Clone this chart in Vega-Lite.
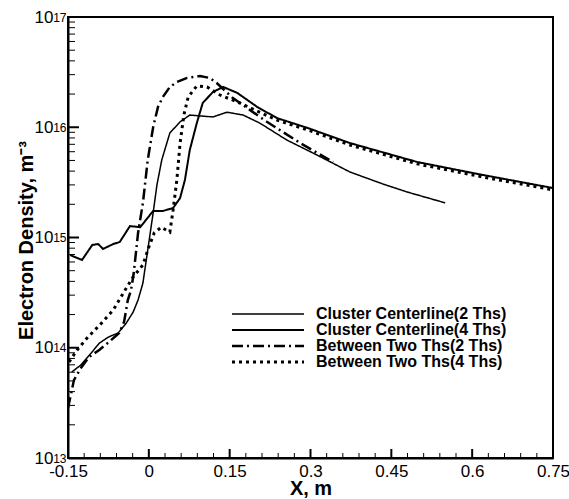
{
  "$schema": "https://vega.github.io/schema/vega-lite/v6.json",
  "width": 485,
  "height": 441,
  "autosize": {"type": "none"},
  "padding": {"left": 68, "top": 17, "right": 16, "bottom": 41},
  "config": {
    "font": "Liberation Sans",
    "view": {"stroke": "black", "strokeWidth": 2},
    "axis": {"grid": false, "domainColor": "black", "domainWidth": 2, "tickColor": "black", "labelColor": "black", "titleColor": "black", "labelFont": "Liberation Sans", "titleFont": "Liberation Sans"}
  },
  "datasets": {
    "yticks": [
      {"v": 1e13, "kind": "major"}, {"v": 1e14, "kind": "major"}, {"v": 1e15, "kind": "major"}, {"v": 1e16, "kind": "major"}, {"v": 1e17, "kind": "major"},
      {"v": 2e13, "kind": "minor"}, {"v": 3e13, "kind": "minor"}, {"v": 4e13, "kind": "minor"}, {"v": 5e13, "kind": "minor"}, {"v": 6e13, "kind": "minor"}, {"v": 7e13, "kind": "minor"}, {"v": 8e13, "kind": "minor"}, {"v": 9e13, "kind": "minor"},
      {"v": 2e14, "kind": "minor"}, {"v": 3e14, "kind": "minor"}, {"v": 4e14, "kind": "minor"}, {"v": 5e14, "kind": "minor"}, {"v": 6e14, "kind": "minor"}, {"v": 7e14, "kind": "minor"}, {"v": 8e14, "kind": "minor"}, {"v": 9e14, "kind": "minor"},
      {"v": 2e15, "kind": "minor"}, {"v": 3e15, "kind": "minor"}, {"v": 4e15, "kind": "minor"}, {"v": 5e15, "kind": "minor"}, {"v": 6e15, "kind": "minor"}, {"v": 7e15, "kind": "minor"}, {"v": 8e15, "kind": "minor"}, {"v": 9e15, "kind": "minor"},
      {"v": 2e16, "kind": "minor"}, {"v": 3e16, "kind": "minor"}, {"v": 4e16, "kind": "minor"}, {"v": 5e16, "kind": "minor"}, {"v": 6e16, "kind": "minor"}, {"v": 7e16, "kind": "minor"}, {"v": 8e16, "kind": "minor"}, {"v": 9e16, "kind": "minor"}
    ],
    "xticks": [
      {"v": -0.15, "kind": "major"}, {"v": 0, "kind": "major"}, {"v": 0.15, "kind": "major"}, {"v": 0.3, "kind": "major"}, {"v": 0.45, "kind": "major"}, {"v": 0.6, "kind": "major"}, {"v": 0.75, "kind": "major"},
      {"v": -0.12, "kind": "minor"}, {"v": -0.09, "kind": "minor"}, {"v": -0.06, "kind": "minor"}, {"v": -0.03, "kind": "minor"},
      {"v": 0.03, "kind": "minor"}, {"v": 0.06, "kind": "minor"}, {"v": 0.09, "kind": "minor"}, {"v": 0.12, "kind": "minor"},
      {"v": 0.18, "kind": "minor"}, {"v": 0.21, "kind": "minor"}, {"v": 0.24, "kind": "minor"}, {"v": 0.27, "kind": "minor"},
      {"v": 0.33, "kind": "minor"}, {"v": 0.36, "kind": "minor"}, {"v": 0.39, "kind": "minor"}, {"v": 0.42, "kind": "minor"},
      {"v": 0.48, "kind": "minor"}, {"v": 0.51, "kind": "minor"}, {"v": 0.54, "kind": "minor"}, {"v": 0.57, "kind": "minor"},
      {"v": 0.63, "kind": "minor"}, {"v": 0.66, "kind": "minor"}, {"v": 0.69, "kind": "minor"}, {"v": 0.72, "kind": "minor"}
    ],
    "curves": [
      {"series": "Cluster Centerline(2 Ths)", "x": -0.143, "y": 6.03e13},
      {"series": "Cluster Centerline(2 Ths)", "x": -0.126, "y": 6.98e13},
      {"series": "Cluster Centerline(2 Ths)", "x": -0.107, "y": 8.95e13},
      {"series": "Cluster Centerline(2 Ths)", "x": -0.092, "y": 1.10e14},
      {"series": "Cluster Centerline(2 Ths)", "x": -0.075, "y": 1.25e14},
      {"series": "Cluster Centerline(2 Ths)", "x": -0.057, "y": 1.36e14},
      {"series": "Cluster Centerline(2 Ths)", "x": -0.042, "y": 1.67e14},
      {"series": "Cluster Centerline(2 Ths)", "x": -0.029, "y": 2.11e14},
      {"series": "Cluster Centerline(2 Ths)", "x": -0.020, "y": 2.71e14},
      {"series": "Cluster Centerline(2 Ths)", "x": -0.011, "y": 3.86e14},
      {"series": "Cluster Centerline(2 Ths)", "x": -0.002, "y": 7.71e14},
      {"series": "Cluster Centerline(2 Ths)", "x": 0.008, "y": 1.67e15},
      {"series": "Cluster Centerline(2 Ths)", "x": 0.015, "y": 2.99e15},
      {"series": "Cluster Centerline(2 Ths)", "x": 0.024, "y": 5.05e15},
      {"series": "Cluster Centerline(2 Ths)", "x": 0.039, "y": 8.87e15},
      {"series": "Cluster Centerline(2 Ths)", "x": 0.058, "y": 1.12e16},
      {"series": "Cluster Centerline(2 Ths)", "x": 0.076, "y": 1.29e16},
      {"series": "Cluster Centerline(2 Ths)", "x": 0.119, "y": 1.24e16},
      {"series": "Cluster Centerline(2 Ths)", "x": 0.145, "y": 1.37e16},
      {"series": "Cluster Centerline(2 Ths)", "x": 0.175, "y": 1.29e16},
      {"series": "Cluster Centerline(2 Ths)", "x": 0.206, "y": 1.09e16},
      {"series": "Cluster Centerline(2 Ths)", "x": 0.256, "y": 7.66e15},
      {"series": "Cluster Centerline(2 Ths)", "x": 0.312, "y": 5.60e15},
      {"series": "Cluster Centerline(2 Ths)", "x": 0.373, "y": 3.93e15},
      {"series": "Cluster Centerline(2 Ths)", "x": 0.435, "y": 3.05e15},
      {"series": "Cluster Centerline(2 Ths)", "x": 0.479, "y": 2.59e15},
      {"series": "Cluster Centerline(2 Ths)", "x": 0.550, "y": 2.06e15},

      {"series": "Cluster Centerline(4 Ths)", "x": -0.146, "y": 6.93e14},
      {"series": "Cluster Centerline(4 Ths)", "x": -0.124, "y": 6.25e14},
      {"series": "Cluster Centerline(4 Ths)", "x": -0.105, "y": 8.55e14},
      {"series": "Cluster Centerline(4 Ths)", "x": -0.094, "y": 8.73e14},
      {"series": "Cluster Centerline(4 Ths)", "x": -0.085, "y": 7.87e14},
      {"series": "Cluster Centerline(4 Ths)", "x": -0.066, "y": 8.73e14},
      {"series": "Cluster Centerline(4 Ths)", "x": -0.054, "y": 9.10e14},
      {"series": "Cluster Centerline(4 Ths)", "x": -0.035, "y": 1.27e15},
      {"series": "Cluster Centerline(4 Ths)", "x": -0.016, "y": 1.24e15},
      {"series": "Cluster Centerline(4 Ths)", "x": 0.008, "y": 1.74e15},
      {"series": "Cluster Centerline(4 Ths)", "x": 0.026, "y": 1.74e15},
      {"series": "Cluster Centerline(4 Ths)", "x": 0.045, "y": 1.85e15},
      {"series": "Cluster Centerline(4 Ths)", "x": 0.058, "y": 2.28e15},
      {"series": "Cluster Centerline(4 Ths)", "x": 0.067, "y": 3.33e15},
      {"series": "Cluster Centerline(4 Ths)", "x": 0.076, "y": 6.22e15},
      {"series": "Cluster Centerline(4 Ths)", "x": 0.089, "y": 1.09e16},
      {"series": "Cluster Centerline(4 Ths)", "x": 0.100, "y": 1.66e16},
      {"series": "Cluster Centerline(4 Ths)", "x": 0.119, "y": 2.09e16},
      {"series": "Cluster Centerline(4 Ths)", "x": 0.138, "y": 2.32e16},
      {"series": "Cluster Centerline(4 Ths)", "x": 0.164, "y": 2.05e16},
      {"series": "Cluster Centerline(4 Ths)", "x": 0.201, "y": 1.53e16},
      {"series": "Cluster Centerline(4 Ths)", "x": 0.238, "y": 1.21e16},
      {"series": "Cluster Centerline(4 Ths)", "x": 0.295, "y": 9.84e15},
      {"series": "Cluster Centerline(4 Ths)", "x": 0.373, "y": 7.19e15},
      {"series": "Cluster Centerline(4 Ths)", "x": 0.498, "y": 4.84e15},
      {"series": "Cluster Centerline(4 Ths)", "x": 0.620, "y": 3.69e15},
      {"series": "Cluster Centerline(4 Ths)", "x": 0.750, "y": 2.81e15},

      {"series": "Between Two Ths(2 Ths)", "x": -0.150, "y": 2.84e13},
      {"series": "Between Two Ths(2 Ths)", "x": -0.144, "y": 3.89e13},
      {"series": "Between Two Ths(2 Ths)", "x": -0.139, "y": 5.09e13},
      {"series": "Between Two Ths(2 Ths)", "x": -0.126, "y": 6.55e13},
      {"series": "Between Two Ths(2 Ths)", "x": -0.111, "y": 8.24e13},
      {"series": "Between Two Ths(2 Ths)", "x": -0.092, "y": 9.55e13},
      {"series": "Between Two Ths(2 Ths)", "x": -0.074, "y": 1.13e14},
      {"series": "Between Two Ths(2 Ths)", "x": -0.055, "y": 1.36e14},
      {"series": "Between Two Ths(2 Ths)", "x": -0.046, "y": 1.71e14},
      {"series": "Between Two Ths(2 Ths)", "x": -0.039, "y": 2.71e14},
      {"series": "Between Two Ths(2 Ths)", "x": -0.033, "y": 3.34e14},
      {"series": "Between Two Ths(2 Ths)", "x": -0.028, "y": 4.76e14},
      {"series": "Between Two Ths(2 Ths)", "x": -0.020, "y": 1.10e15},
      {"series": "Between Two Ths(2 Ths)", "x": -0.011, "y": 2.06e15},
      {"series": "Between Two Ths(2 Ths)", "x": -0.002, "y": 5.05e15},
      {"series": "Between Two Ths(2 Ths)", "x": 0.008, "y": 1.00e16},
      {"series": "Between Two Ths(2 Ths)", "x": 0.017, "y": 1.53e16},
      {"series": "Between Two Ths(2 Ths)", "x": 0.026, "y": 1.88e16},
      {"series": "Between Two Ths(2 Ths)", "x": 0.039, "y": 2.32e16},
      {"series": "Between Two Ths(2 Ths)", "x": 0.052, "y": 2.57e16},
      {"series": "Between Two Ths(2 Ths)", "x": 0.071, "y": 2.80e16},
      {"series": "Between Two Ths(2 Ths)", "x": 0.095, "y": 2.92e16},
      {"series": "Between Two Ths(2 Ths)", "x": 0.113, "y": 2.80e16},
      {"series": "Between Two Ths(2 Ths)", "x": 0.126, "y": 2.52e16},
      {"series": "Between Two Ths(2 Ths)", "x": 0.156, "y": 1.84e16},
      {"series": "Between Two Ths(2 Ths)", "x": 0.188, "y": 1.43e16},
      {"series": "Between Two Ths(2 Ths)", "x": 0.219, "y": 1.12e16},
      {"series": "Between Two Ths(2 Ths)", "x": 0.281, "y": 7.19e15},
      {"series": "Between Two Ths(2 Ths)", "x": 0.342, "y": 4.84e15},

      {"series": "Between Two Ths(4 Ths)", "x": -0.148, "y": 7.43e13},
      {"series": "Between Two Ths(4 Ths)", "x": -0.133, "y": 9.55e13},
      {"series": "Between Two Ths(4 Ths)", "x": -0.115, "y": 1.22e14},
      {"series": "Between Two Ths(4 Ths)", "x": -0.091, "y": 1.61e14},
      {"series": "Between Two Ths(4 Ths)", "x": -0.066, "y": 2.20e14},
      {"series": "Between Two Ths(4 Ths)", "x": -0.044, "y": 3.34e14},
      {"series": "Between Two Ths(4 Ths)", "x": -0.029, "y": 4.39e14},
      {"series": "Between Two Ths(4 Ths)", "x": -0.011, "y": 5.64e14},
      {"series": "Between Two Ths(4 Ths)", "x": 0.000, "y": 8.20e14},
      {"series": "Between Two Ths(4 Ths)", "x": 0.010, "y": 1.10e15},
      {"series": "Between Two Ths(4 Ths)", "x": 0.023, "y": 1.24e15},
      {"series": "Between Two Ths(4 Ths)", "x": 0.039, "y": 1.12e15},
      {"series": "Between Two Ths(4 Ths)", "x": 0.045, "y": 1.77e15},
      {"series": "Between Two Ths(4 Ths)", "x": 0.052, "y": 3.33e15},
      {"series": "Between Two Ths(4 Ths)", "x": 0.058, "y": 7.19e15},
      {"series": "Between Two Ths(4 Ths)", "x": 0.065, "y": 1.29e16},
      {"series": "Between Two Ths(4 Ths)", "x": 0.073, "y": 1.88e16},
      {"series": "Between Two Ths(4 Ths)", "x": 0.089, "y": 2.37e16},
      {"series": "Between Two Ths(4 Ths)", "x": 0.108, "y": 2.32e16},
      {"series": "Between Two Ths(4 Ths)", "x": 0.132, "y": 1.96e16},
      {"series": "Between Two Ths(4 Ths)", "x": 0.169, "y": 1.66e16},
      {"series": "Between Two Ths(4 Ths)", "x": 0.201, "y": 1.40e16},
      {"series": "Between Two Ths(4 Ths)", "x": 0.238, "y": 1.16e16},
      {"series": "Between Two Ths(4 Ths)", "x": 0.295, "y": 9.44e15},
      {"series": "Between Two Ths(4 Ths)", "x": 0.373, "y": 6.90e15},
      {"series": "Between Two Ths(4 Ths)", "x": 0.498, "y": 4.65e15},
      {"series": "Between Two Ths(4 Ths)", "x": 0.620, "y": 3.54e15},
      {"series": "Between Two Ths(4 Ths)", "x": 0.750, "y": 2.70e15}
    ]
  },
  "resolve": {"axis": {"x": "independent", "y": "independent"}},
  "layer": [
    {
      "data": {"name": "curves"},
      "mark": {"type": "line", "color": "black", "strokeCap": "butt", "clip": true},
      "encoding": {
        "x": {
          "field": "x", "type": "quantitative",
          "scale": {"domain": [-0.15, 0.75], "nice": false, "zero": false},
          "axis": {
            "orient": "bottom",
            "title": "X, m", "titleFontSize": 20, "titleFontWeight": "bold",
            "titleX": 242.5, "titleY": 36, "titleBaseline": "alphabetic", "titleAlign": "center",
            "values": [-0.15, 0, 0.15, 0.3, 0.45, 0.6, 0.75],
            "labelExpr": "datum.value + ''",
            "labelFontSize": 17, "labelPadding": 5, "labelOverlap": false, "labelFlush": false,
            "ticks": false, "tickSize": 0
          }
        },
        "y": {
          "field": "y", "type": "quantitative",
          "scale": {"type": "log", "domain": [1e13, 1e17], "nice": false},
          "axis": {
            "orient": "left",
            "title": "Electron Density, m⁻³", "titleFontSize": 20, "titleFontWeight": "bold",
            "titleX": -36, "titleY": 223, "titleBaseline": "alphabetic", "titleAlign": "center", "titleAngle": -90,
            "values": [1e13, 1e14, 1e15, 1e16, 1e17],
            "labelExpr": "'10'",
            "labelFontSize": 17, "labelPadding": 15, "labelOverlap": false, "labelFlush": false, "labelBaseline": "middle", "labelDy": 1,
            "ticks": false, "tickSize": 0
          }
        },
        "strokeDash": {
          "field": "series", "type": "nominal",
          "scale": {
            "domain": ["Cluster Centerline(2 Ths)", "Cluster Centerline(4 Ths)", "Between Two Ths(2 Ths)", "Between Two Ths(4 Ths)"],
            "range": [[1, 0], [1, 0], [11, 4, 2, 4], [3, 4]]
          },
          "legend": {
            "title": null, "orient": "none", "legendX": 192, "legendY": 289,
            "symbolType": "M-6,0H6", "symbolSize": 144, "symbolStrokeColor": "black", "symbolFillColor": "transparent",
            "labelFont": "Liberation Sans", "labelFontSize": 16, "labelFontWeight": "bold", "labelColor": "black",
            "labelOffset": 40, "rowPadding": 0, "labelLimit": 400
          }
        },
        "strokeWidth": {
          "field": "series", "type": "nominal",
          "scale": {
            "domain": ["Cluster Centerline(2 Ths)", "Cluster Centerline(4 Ths)", "Between Two Ths(2 Ths)", "Between Two Ths(4 Ths)"],
            "range": [1.5, 3, 1.5, 3]
          },
          "legend": {
            "title": null, "orient": "none", "legendX": 192, "legendY": 289,
            "symbolType": "M-6,0H6", "symbolSize": 144, "symbolStrokeColor": "black", "symbolFillColor": "transparent",
            "labelFont": "Liberation Sans", "labelFontSize": 16, "labelFontWeight": "bold", "labelColor": "black",
            "labelOffset": 40, "rowPadding": 0, "labelLimit": 400
          }
        }
      }
    },
    {
      "data": {"name": "yticks"},
      "transform": [{"filter": "datum.kind == 'major'"}],
      "mark": {"type": "rule", "color": "black", "strokeWidth": 2, "opacity": 1},
      "encoding": {
        "y": {"field": "v", "type": "quantitative", "scale": {"type": "log", "domain": [1e13, 1e17], "nice": false}, "axis": null},
        "x": {"datum": -0.15, "type": "quantitative", "axis": null},
        "x2": {"datum": -0.1296}
      }
    },
    {
      "data": {"name": "yticks"},
      "transform": [{"filter": "datum.kind == 'minor'"}],
      "mark": {"type": "rule", "color": "black", "strokeWidth": 1, "opacity": 1},
      "encoding": {
        "y": {"field": "v", "type": "quantitative", "scale": {"type": "log", "domain": [1e13, 1e17], "nice": false}, "axis": null},
        "x": {"datum": -0.15, "type": "quantitative", "axis": null},
        "x2": {"datum": -0.137}
      }
    },
    {
      "data": {"name": "xticks"},
      "transform": [{"filter": "datum.kind == 'major'"}],
      "mark": {"type": "rule", "color": "black", "strokeWidth": 2, "opacity": 1},
      "encoding": {
        "x": {"field": "v", "type": "quantitative", "scale": {"domain": [-0.15, 0.75], "nice": false, "zero": false}, "axis": null},
        "y": {"datum": 1e13, "type": "quantitative", "axis": null},
        "y2": {"datum": 1.207e13}
      }
    },
    {
      "data": {"name": "xticks"},
      "transform": [{"filter": "datum.kind == 'minor'"}],
      "mark": {"type": "rule", "color": "black", "strokeWidth": 1, "opacity": 1},
      "encoding": {
        "x": {"field": "v", "type": "quantitative", "scale": {"domain": [-0.15, 0.75], "nice": false, "zero": false}, "axis": null},
        "y": {"datum": 1e13, "type": "quantitative", "axis": null},
        "y2": {"datum": 1.110e13}
      }
    },
    {
      "data": {"name": "yticks"},
      "transform": [{"filter": "datum.kind == 'major'"}],
      "mark": {"type": "point", "opacity": 0},
      "encoding": {
        "y": {
          "field": "v", "type": "quantitative",
          "scale": {"type": "log", "domain": [1e13, 1e17], "nice": false},
          "axis": {
            "orient": "left", "title": null, "domain": false, "ticks": false, "tickSize": 0,
            "values": [1e13, 1e14, 1e15, 1e16, 1e17],
            "labelExpr": "format(round(log(datum.value)/LN10), 'd')",
            "labelFontSize": 12, "labelPadding": 2, "labelBaseline": "middle", "labelDy": -4,
            "labelOverlap": false, "labelFlush": false
          }
        }
      }
    }
  ]
}
